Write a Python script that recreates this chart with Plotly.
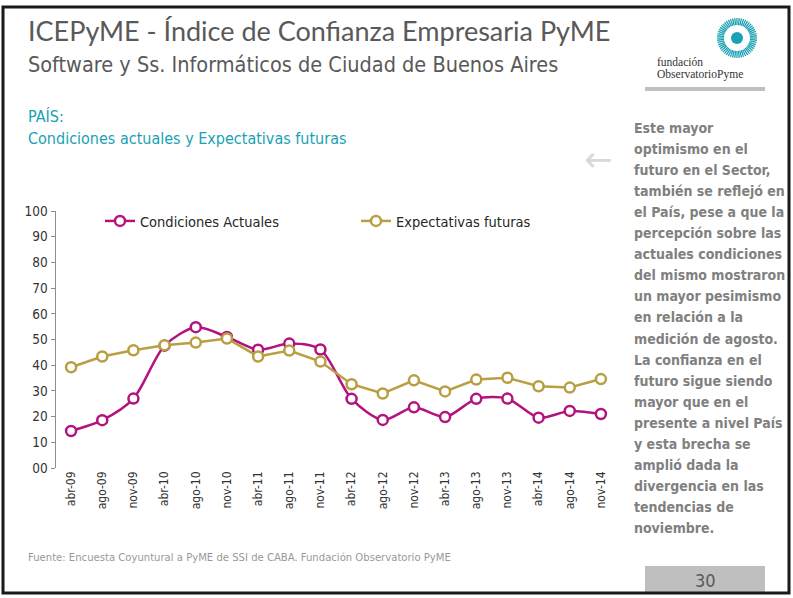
import math

import plotly.graph_objects as go

periods = ["abr-09", "ago-09", "nov-09", "abr-10", "ago-10", "nov-10", "abr-11", "ago-11", "nov-11",
           "abr-12", "ago-12", "nov-12", "abr-13", "ago-13", "nov-13", "abr-14", "ago-14", "nov-14"]
actuales = [14.4, 18.6, 27.0, 47.6, 54.8, 51.0, 46.0, 48.4, 46.1,
            26.9, 18.7, 23.6, 19.8, 26.9, 27.0, 19.6, 22.2, 21.0]
futuras = [39.2, 43.4, 45.8, 47.8, 48.8, 50.4, 43.4, 45.7, 41.4,
           32.6, 29.0, 34.1, 29.8, 34.4, 35.1, 31.8, 31.3, 34.6]
y_ticks = [0, 10, 20, 30, 40, 50, 60, 70, 80, 90, 100]
y_ticktext = ["00", "10", "20", "30", "40", "50", "60", "70", "80", "90", "100"]

comment_lines = [
    "Este mayor", "optimismo en el", "futuro en el Sector,", "también se reflejó en",
    "el País, pese a que la", "percepción sobre las", "actuales condiciones",
    "del mismo mostraron", "un mayor pesimismo", "en relación a la", "medición de agosto.",
    "La confianza en el", "futuro sigue siendo", "mayor que en el", "presente a nivel País",
    "y esta brecha se", "amplió dada la", "divergencia en las", "tendencias de", "noviembre.",
]

W, H = 793, 598
NARROW = "DejaVu Sans Condensed, Liberation Sans Narrow, Arial Narrow, sans-serif"
TEAL = "#1aa1b3"
MAGENTA = "#b3127f"
GOLD = "#b89f42"


def px_x(x):
    return x / W


def px_y(y):
    return 1 - y / H


fig = go.Figure()
fig.add_trace(go.Scatter(
    x=periods, y=actuales, name="Condiciones Actuales", mode="lines+markers",
    line=dict(color=MAGENTA, width=2.5, shape="spline", smoothing=0.8),
    marker=dict(symbol="circle", size=10, color="white", line=dict(color=MAGENTA, width=2.5)),
))
fig.add_trace(go.Scatter(
    x=periods, y=futuras, name="Expectativas futuras", mode="lines+markers",
    line=dict(color=GOLD, width=2.5),
    marker=dict(symbol="circle", size=10, color="white", line=dict(color=GOLD, width=2.5)),
))

annotations = [
    dict(text="ICEPyME - Índice de Confianza Empresaria PyME", x=px_x(26), y=px_y(31),
         font=dict(family="Lato, Open Sans, sans-serif", size=27, color="#595959")),
    dict(text="Software y Ss. Informáticos de Ciudad de Buenos Aires", x=px_x(26), y=px_y(64),
         font=dict(family=NARROW, size=21.5, color="#595959")),
    dict(text="PAÍS:", x=px_x(26), y=px_y(117), font=dict(family=NARROW, size=16, color=TEAL)),
    dict(text="Condiciones actuales y Expectativas futuras", x=px_x(26), y=px_y(138),
         font=dict(family=NARROW, size=16, color=TEAL)),
    dict(text="←", x=px_x(598), y=px_y(159), xanchor="center",
         font=dict(family="DejaVu Sans", size=34, color="#d9d9d9")),
    dict(text="Fuente: Encuesta Coyuntural a PyME de SSI de CABA. Fundación Observatorio PyME",
         x=px_x(26), y=px_y(557), font=dict(family=NARROW, size=11.2, color="#999999")),
    dict(text="30", x=px_x(705), y=px_y(580), xanchor="center",
         font=dict(family=NARROW, size=18, color="#595959")),
    dict(text="fundación", x=px_x(655), y=px_y(62),
         font=dict(family="Liberation Serif, DejaVu Serif, serif", size=11.5, color="#333333")),
    dict(text="ObservatorioPyme", x=px_x(655), y=px_y(74),
         font=dict(family="Liberation Serif, DejaVu Serif, serif", size=11.5, color="#333333")),
]
for i, line in enumerate(comment_lines):
    annotations.append(dict(text="<b>" + line + "</b>", x=px_x(632), y=px_y(128 + 21.05 * i),
                            font=dict(family=NARROW, size=14, color="#808080")))
for a in annotations:
    a.setdefault("xanchor", "left")
    a.setdefault("yanchor", "middle")
    a.update(xref="paper", yref="paper", showarrow=False, align="left")

shapes = [
    dict(type="rect", x0=px_x(3), x1=px_x(789), y0=px_y(7), y1=px_y(593),
         line=dict(color="#1a1a1a", width=3)),
    dict(type="rect", x0=px_x(645), x1=px_x(765), y0=px_y(566), y1=px_y(592),
         fillcolor="#bfbfbf", line=dict(width=0), layer="below"),
    dict(type="rect", x0=px_x(645), x1=px_x(765), y0=px_y(87), y1=px_y(91),
         fillcolor="#bfbfbf", line=dict(width=0)),
    dict(type="circle", x0=px_x(731), x1=px_x(743), y0=px_y(32), y1=px_y(44),
         fillcolor=TEAL, line=dict(width=0)),
]
# logo: ring of short radial strokes
cx, cy = 737, 38
for k in range(56):
    ang = 2 * math.pi * k / 56
    shapes.append(dict(type="line",
                       x0=px_x(cx + 13 * math.cos(ang)), y0=px_y(cy + 13 * math.sin(ang)),
                       x1=px_x(cx + 20 * math.cos(ang)), y1=px_y(cy + 20 * math.sin(ang)),
                       line=dict(color=TEAL, width=1.3)))
for s in shapes:
    s.update(xref="paper", yref="paper")

fig.update_layout(
    width=W, height=H,
    margin=dict(l=0, r=0, t=0, b=0, autoexpand=False),
    paper_bgcolor="white", plot_bgcolor="white",
    font=dict(family=NARROW, color="#333333"),
    showlegend=True,
    legend=dict(orientation="h", x=px_x(100), y=px_y(221), xanchor="left", yanchor="middle",
                entrywidth=211, entrywidthmode="pixels", bgcolor="rgba(0,0,0,0)",
                font=dict(family=NARROW, size=14.5, color="#262626")),
    xaxis=dict(domain=[px_x(55.5), px_x(616.5)], type="category", range=[-0.5, 17.5],
               showgrid=False, showline=False, zeroline=False, ticks="", automargin=False,
               tickangle=-90, tickfont=dict(family=NARROW, size=12, color="#333333")),
    yaxis=dict(domain=[px_y(468), px_y(211)], range=[0, 100], tickvals=y_ticks, ticktext=y_ticktext,
               showgrid=False, zeroline=False, showline=True, linecolor="#8c8c8c", linewidth=1,
               ticks="outside", ticklen=4, tickcolor="#8c8c8c", automargin=False,
               tickfont=dict(family=NARROW, size=13.5, color="#333333")),
    annotations=annotations,
    shapes=shapes,
)

fig.write_html("out.html", config={"displayModeBar": False},
               post_script="document.body.style.margin = '0';")
